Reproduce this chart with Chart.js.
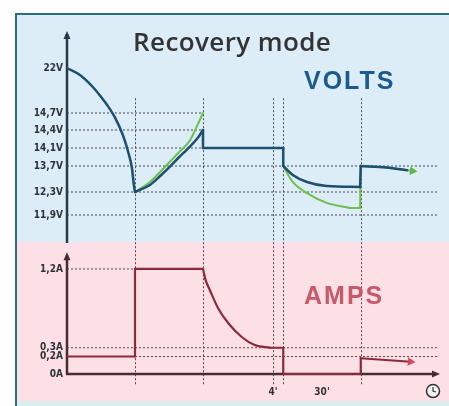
<!DOCTYPE html>
<html>
<head>
<meta charset="utf-8">
<title>Recovery mode</title>
<script src="https://cdn.jsdelivr.net/npm/chart.js@4.4.0/dist/chart.umd.min.js"></script>
<style>
  html, body { margin: 0; padding: 0; background: #fff; }
  #wrap { position: relative; width: 449px; height: 406px; overflow: hidden; }
  #frame {
    position: absolute; left: 15px; top: 13px; width: 434px; height: 393px;
    box-sizing: border-box;
    border-left: 2px solid #2c6e7b; border-top: 2px solid #2c6e7b;
    background: linear-gradient(to bottom, #dcedf7 0px, #dcedf7 227px, #fde0e5 227px, #fde0e5 386px, #dcedf0 386px);
  }
  #chart { position: absolute; left: 0; top: 0; }
  .txt { position: absolute; line-height: 1; white-space: nowrap; }
  #title { left: 133px; top: 23px; font: 600 26px 'Open Sans', sans-serif; color: #333; letter-spacing: 0.4px; }
  #volts { left: 304px; top: 66px; font: bold 25px 'Liberation Sans', sans-serif; color: #1b5a8d; letter-spacing: 2px; }
  #amps { left: 304px; top: 281px; font: bold 25px 'Liberation Sans', sans-serif; color: #c9596a; letter-spacing: 2px; }
</style>
</head>
<body>
<div id="wrap">
  <div id="frame"></div>
  <canvas id="chart" width="449" height="406"></canvas>
  <div class="txt" id="title">Recovery mode</div>
  <div class="txt" id="volts">VOLTS</div>
  <div class="txt" id="amps">AMPS</div>
</div>
<script>
// Schematic time axis: one unit per main phase
const phaseMarks = [1, 2, 3.03, 3.18, 4.32];
const timeTickValues = [3.03, 3.75];
const timeTickLabels = ["4'", "30'"];

// Volt axis is not to scale, ticks are spread schematically
const voltTicks = [11.9, 12.3, 13.7, 14.1, 14.4, 14.7, 22];
const voltTickLabels = ['11,9V', '12,3V', '13,7V', '14,1V', '14,4V', '14,7V', '22V'];
const voltTickSpacing = [0, 2.3, 4.9, 6.7, 8.5, 10.2, 14.7];

const ampTicks = [0, 0.2, 0.3, 1.2];
const ampTickLabels = ['0A', '0,2A', '0,3A', '1,2A'];

// Battery voltage (dark blue)
const blueTime = [0, 0.19, 0.38, 0.49, 0.59, 0.71, 0.82, 0.9, 0.955, 0.985, 1,
  1.22, 1.37, 1.51, 1.65, 1.76, 1.93, 2, 2, 3.18, 3.18, 3.32, 3.53, 3.82, 4.31, 4.32, 4.7, 5.0];
const blueVolts = [22, 20.86, 18.92, 17.46, 16.0, 14.61, 14.32, 14.01, 13.59, 12.62, 12.3,
  12.68, 13.16, 13.65, 13.9, 14.06, 14.28, 14.4, 14.1, 14.1, 13.7, 13.22, 12.84, 12.62, 12.57, 13.7, 13.62, 13.47];

// Second voltage trace (green)
const greenRiseTime = [1, 1.22, 1.37, 1.51, 1.65, 1.81, 1.92, 2];
const greenRiseVolts = [12.3, 12.84, 13.38, 13.79, 14.01, 14.23, 14.49, 14.7];
const greenDropTime = [3.18, 3.32, 3.53, 3.82, 4.16, 4.31, 4.32, 4.7, 5.08];
const greenDropVolts = [13.7, 12.84, 12.28, 12.11, 12.02, 12.02, 13.7, 13.62, 13.43];

// Charging current
const ampTime = [0, 1, 1, 2, 2.04, 2.1, 2.22, 2.37, 2.57, 2.76, 2.99, 3.03, 3.18, 3.18, 4.32, 4.32, 5.05];
const ampValues = [0.2, 0.2, 1.2, 1.2, 1.07, 0.96, 0.754, 0.583, 0.423, 0.331, 0.3, 0.3, 0.3, 0, 0, 0.18, 0.14];

// Dotted guide lines: [value, end time]
const voltGuides = [[14.7, 2], [14.4, 2], [14.1, 2], [13.7, 5.45], [12.3, 5.45], [11.9, 5.45]];
const ampGuides = [[1.2, 1], [0.3, 5.45], [0.2, 5.45]];

const markerTopVolt = 17.1;
const markerBottomAmp = -0.13;
const ampAxisTop = 1.39;

// map a voltage to its schematic position on the volt axis
const voltLevel = (v) => {
  let i = 1;
  while (i < voltTicks.length - 1 && v > voltTicks[i]) i++;
  const v0 = voltTicks[i - 1], v1 = voltTicks[i];
  const p0 = voltTickSpacing[i - 1], p1 = voltTickSpacing[i];
  return p0 + (v - v0) / (v1 - v0) * (p1 - p0);
};

const toPoints = (times, values, fn) => times.map((t, i) => ({ x: t, y: fn ? fn(values[i]) : values[i] }));

// split a trace into runs (rising, falling, flat, vertical step) so each
// run can be smoothed on its own and corners stay sharp
const splitRuns = (pts) => {
  const runs = [];
  let run = [pts[0]];
  let kind = null;
  for (let i = 1; i < pts.length; i++) {
    const p = pts[i], q = pts[i - 1];
    const k = p.x === q.x ? 'v' : Math.sign(p.y - q.y);
    if (kind !== null && k !== kind) {
      runs.push(run);
      run = [q];
    }
    kind = k;
    run.push(p);
  }
  runs.push(run);
  return runs;
};

const datasets = [];

const addTrace = (pts, yAxisID, color, width, arrowColor) => {
  const runs = splitRuns(pts);
  runs.forEach((run, idx) => {
    const last = idx === runs.length - 1;
    datasets.push({
      data: run,
      yAxisID,
      borderColor: color,
      borderWidth: width,
      borderCapStyle: 'round',
      borderJoinStyle: 'round',
      cubicInterpolationMode: 'monotone',
      pointStyle: 'triangle',
      rotation: 95,
      pointRadius: (c) => (last && arrowColor && c.dataIndex === run.length - 1) ? 5 : 0,
      pointBackgroundColor: arrowColor || color,
      pointBorderWidth: 0
    });
  });
};

addTrace(toPoints(blueTime, blueVolts, voltLevel), 'yV', '#1d4f70', 2.5);
addTrace(toPoints(greenRiseTime, greenRiseVolts, voltLevel), 'yV', '#6dbf4b', 2);
addTrace(toPoints(greenDropTime, greenDropVolts, voltLevel), 'yV', '#6dbf4b', 2, '#5fb847');
addTrace(toPoints(ampTime, ampValues), 'yA', '#8a2a3c', 2.2, '#d5475c');

voltGuides.forEach(([v, end]) => {
  datasets.push({
    data: [{ x: 0, y: voltLevel(v) }, { x: end, y: voltLevel(v) }],
    yAxisID: 'yV',
    borderColor: '#4b4b4b',
    borderWidth: 1,
    borderDash: [2, 2],
    pointRadius: 0
  });
});
ampGuides.forEach(([a, end]) => {
  datasets.push({
    data: [{ x: 0, y: a }, { x: end, y: a }],
    yAxisID: 'yA',
    borderColor: '#4b4b4b',
    borderWidth: 1,
    borderDash: [2, 2],
    pointRadius: 0
  });
});

const tickFont = { family: 'DejaVu Sans Condensed', size: 10, weight: 'bold' };

// draws phase markers, axis lines with arrows and the clock symbol
const schemePlugin = {
  id: 'scheme',
  beforeDatasetsDraw(chart) {
    const { ctx } = chart;
    const { x, yV, yA } = chart.scales;
    const x0 = x.getPixelForValue(0);
    const y0 = yA.getPixelForValue(0);
    ctx.save();

    // phase markers
    ctx.strokeStyle = '#4b4b4b';
    ctx.lineWidth = 1;
    ctx.setLineDash([2, 2]);
    const top = yV.getPixelForValue(voltLevel(markerTopVolt));
    const bottom = yA.getPixelForValue(markerBottomAmp);
    phaseMarks.forEach(t => {
      const px = Math.round(x.getPixelForValue(t)) + 0.5;
      ctx.beginPath();
      ctx.moveTo(px, top);
      ctx.lineTo(px, bottom);
      ctx.stroke();
    });
    ctx.setLineDash([]);

    const arrowUp = (px, py, color) => {
      ctx.fillStyle = color;
      ctx.beginPath();
      ctx.moveTo(px, py);
      ctx.lineTo(px - 3.5, py + 8);
      ctx.lineTo(px + 3.5, py + 8);
      ctx.closePath();
      ctx.fill();
    };

    // volt axis
    ctx.strokeStyle = '#27394a';
    ctx.lineWidth = 2.5;
    ctx.beginPath();
    ctx.moveTo(x0, yV.bottom - 4);
    ctx.lineTo(x0, yV.top + 4);
    ctx.stroke();
    arrowUp(x0, yV.top + 1, '#27394a');

    // amp axis
    const ampTop = yA.getPixelForValue(ampAxisTop);
    ctx.strokeStyle = '#4a2a33';
    ctx.beginPath();
    ctx.moveTo(x0, y0);
    ctx.lineTo(x0, ampTop + 3);
    ctx.stroke();
    arrowUp(x0, ampTop, '#4a2a33');

    // time axis
    const xEnd = x.right - 1;
    ctx.beginPath();
    ctx.moveTo(x0 - 1, y0);
    ctx.lineTo(xEnd - 6, y0);
    ctx.stroke();
    ctx.fillStyle = '#4a2a33';
    ctx.beginPath();
    ctx.moveTo(xEnd, y0);
    ctx.lineTo(xEnd - 8, y0 - 3.5);
    ctx.lineTo(xEnd - 8, y0 + 3.5);
    ctx.closePath();
    ctx.fill();

    // clock symbol
    const cx = x.right - 8, cy = y0 + 17;
    ctx.strokeStyle = '#333';
    ctx.lineWidth = 1.5;
    ctx.fillStyle = '#f4f4f4';
    ctx.beginPath();
    ctx.arc(cx, cy, 6.5, 0, Math.PI * 2);
    ctx.fill();
    ctx.stroke();
    ctx.lineWidth = 1.2;
    ctx.beginPath();
    ctx.moveTo(cx, cy - 4);
    ctx.lineTo(cx, cy);
    ctx.lineTo(cx + 3, cy + 1);
    ctx.stroke();

    ctx.restore();
  }
};

new Chart(document.getElementById('chart'), {
  type: 'line',
  data: { datasets },
  options: {
    responsive: false,
    animation: false,
    events: [],
    layout: { padding: { left: 15, right: 8, top: 30, bottom: 0 } },
    plugins: {
      legend: { display: false },
      tooltip: { enabled: false }
    },
    scales: {
      x: {
        type: 'linear',
        min: 0,
        max: 5.5,
        position: 'bottom',
        grid: { display: false, drawTicks: false },
        border: { display: false },
        afterBuildTicks: (s) => { s.ticks = timeTickValues.map(v => ({ value: v })); },
        afterFit: (s) => { s.height = 20; },
        ticks: {
          autoSkip: false,
          maxRotation: 0,
          padding: 0,
          color: '#333',
          font: tickFont,
          callback: (v, i) => timeTickLabels[i]
        }
      },
      yV: {
        type: 'linear',
        position: 'left',
        stack: 'panels',
        stackWeight: 217,
        weight: 1,
        min: -3.2,
        max: 18.5,
        grid: { display: false, drawTicks: false },
        border: { display: false },
        afterBuildTicks: (s) => { s.ticks = voltTickSpacing.map(v => ({ value: v })); },
        afterFit: (s) => { s.width = 52; },
        ticks: {
          autoSkip: false,
          padding: 4,
          color: '#2d3238',
          font: tickFont,
          callback: (v, i) => voltTickLabels[i]
        }
      },
      yA: {
        type: 'linear',
        position: 'left',
        stack: 'panels',
        stackWeight: 139,
        weight: 0,
        min: -0.137,
        max: 1.451,
        grid: { display: false, drawTicks: false },
        border: { display: false },
        afterBuildTicks: (s) => { s.ticks = ampTicks.map(v => ({ value: v })); },
        afterFit: (s) => { s.width = 52; },
        ticks: {
          autoSkip: false,
          padding: 4,
          color: '#2d3238',
          font: tickFont,
          callback: (v, i) => ampTickLabels[i]
        }
      }
    }
  },
  plugins: [schemePlugin]
});
</script>
</body>
</html>
